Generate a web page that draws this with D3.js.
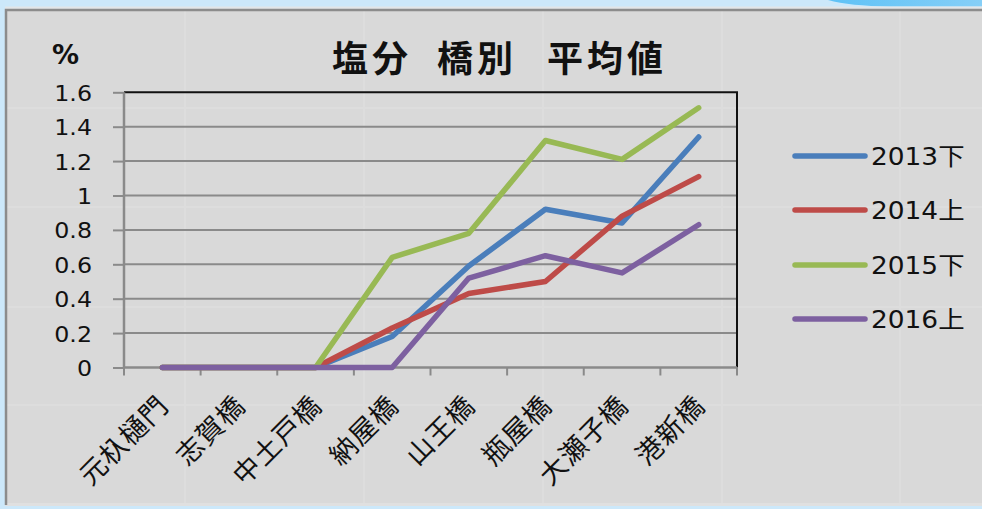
<!DOCTYPE html>
<html>
<head>
<meta charset="utf-8">
<script src="https://cdn.jsdelivr.net/npm/d3@7"></script>
<style>
  html, body { margin: 0; padding: 0; background: #cce8fa; }
  svg { display: block; }
</style>
</head>
<body>
<svg id="chart" width="982" height="509"></svg>
<script>
// Bridges along the river, upstream to downstream
const bridges = ["元杁樋門", "志賀橋", "中土戸橋", "納屋橋", "山王橋", "瓶屋橋", "大瀬子橋", "港新橋"];

// Average salinity (%) per survey period
const seriesNames = ["2013下", "2014上", "2015下", "2016上"];
const s2013 = [0, 0, 0, 0.18, 0.59, 0.92, 0.84, 1.34];
const s2014 = [0, 0, 0, 0.23, 0.43, 0.50, 0.88, 1.11];
const s2015 = [0, 0, 0, 0.64, 0.78, 1.32, 1.21, 1.51];
const s2016 = [0, 0, 0, 0, 0.52, 0.65, 0.55, 0.83];
const yTicks = [0, 0.2, 0.4, 0.6, 0.8, 1, 1.2, 1.4, 1.6];
const titleWords = ["塩分", "橋別", "平均値"];

const seriesValues = [s2013, s2014, s2015, s2016];
const colors = ["#4a7ebb", "#be4b48", "#98b954", "#7d60a0"];

const svg = d3.select("#chart");
const W = 982, H = 509;

// Page backdrop with the swoosh at the top right
const defs = svg.append("defs");
const sw = defs.append("linearGradient").attr("id", "swoosh").attr("x1", 0).attr("x2", 1);
sw.append("stop").attr("offset", "0").attr("stop-color", "#5ec2f6");
sw.append("stop").attr("offset", "1").attr("stop-color", "#86cff7");
svg.append("rect").attr("width", W).attr("height", H).attr("fill", "#cce8fa");
svg.append("path")
  .attr("d", "M828,0 Q850,6 890,6.5 L982,6.5 L982,0 Z")
  .attr("fill", "url(#swoosh)");
svg.append("rect").attr("x", 5).attr("y", 6.5).attr("width", W - 5).attr("height", 3).attr("fill", "#e2e6e8");

// Chart area
svg.append("rect").attr("x", 5).attr("y", 9).attr("width", W - 5).attr("height", 496).attr("fill", "#d9d9d9");
// faint texture lines
const tex = svg.append("g").attr("stroke", "#dddddd").attr("stroke-width", 2);
[185, 364, 543, 722, 900].forEach(x => tex.append("line").attr("x1", x).attr("x2", x).attr("y1", 11).attr("y2", 505));
[108, 207, 307, 405].forEach(y => tex.append("line").attr("x1", 7).attr("x2", W).attr("y1", y).attr("y2", y));
svg.append("rect").attr("x", 5).attr("y", 503).attr("width", W - 5).attr("height", 3).attr("fill", "#e0e0e0");
svg.append("path")
  .attr("d", `M6,505 L6,10 L${W},10`)
  .attr("fill", "none").attr("stroke", "#8c8c8c").attr("stroke-width", 2.5);

// Scales
const x0 = 124, x1 = 737, yTop = 92.3, yBot = 367.5;
const x = d3.scaleBand().domain(bridges).range([x0, x1]).padding(0);
const y = d3.scaleLinear().domain([0, 1.6]).range([yBot, yTop]);
const cx = d => x(d) + x.bandwidth() / 2;

const numFont = "'DejaVu Sans', 'Noto Sans CJK JP', sans-serif";
const cjkFont = "'Noto Sans CJK JP', 'DejaVu Sans', sans-serif";

// Horizontal gridlines
svg.append("g")
  .selectAll("line")
  .data(yTicks.filter(t => t > 0 && t < 1.6))
  .join("line")
  .attr("x1", x0).attr("x2", x1)
  .attr("y1", d => y(d)).attr("y2", d => y(d))
  .attr("stroke", "#8a8a8a").attr("stroke-width", 2);

// Top and right plot border
svg.append("path")
  .attr("d", `M${x0},${y(1.6)} L${x1},${y(1.6)} L${x1},${y(0)}`)
  .attr("fill", "none").attr("stroke", "#111").attr("stroke-width", 2);

// Y axis
const yAxis = svg.append("g")
  .attr("transform", `translate(${x0},0)`)
  .call(d3.axisLeft(y).tickValues(yTicks).tickSize(11).tickPadding(20).tickFormat(d3.format("~g")));
yAxis.select(".domain").attr("stroke", "#8a8a8a").attr("stroke-width", 2.5).attr("d", `M0,${yTop}V${yBot}`);
yAxis.selectAll(".tick line").attr("stroke", "#8a8a8a").attr("stroke-width", 2);
yAxis.selectAll(".tick text")
  .attr("font-family", numFont).attr("font-size", 22).attr("fill", "#111")
  .attr("transform", "scale(1.08,1)").attr("dy", "0.36em")
  .attr("x", -32 / 1.08);

// X axis
const xAxis = svg.append("g")
  .attr("transform", `translate(0,${yBot})`)
  .call(d3.axisBottom(x).tickSize(0).tickFormat(""));
xAxis.select(".domain").attr("stroke", "#8a8a8a").attr("stroke-width", 2.5).attr("d", `M${x0},0H${x1}`);
xAxis.selectAll(".tick").remove();
svg.append("g")
  .selectAll("line")
  .data(d3.range(bridges.length + 1))
  .join("line")
  .attr("x1", i => x0 + i * x.bandwidth()).attr("x2", i => x0 + i * x.bandwidth())
  .attr("y1", yBot).attr("y2", yBot + 8)
  .attr("stroke", "#8a8a8a").attr("stroke-width", 2);

svg.append("g")
  .selectAll("text")
  .data(bridges)
  .join("text")
  .attr("transform", d => `translate(${cx(d) + 8},${yBot + 40}) rotate(-45)`)
  .attr("text-anchor", "end")
  .attr("font-family", cjkFont).attr("font-size", 27).attr("letter-spacing", 1).attr("fill", "#111")
  .text(d => d);

// Series lines
const line = d3.line().x((v, i) => cx(bridges[i])).y(v => y(v));
svg.append("g")
  .selectAll("path")
  .data(seriesValues)
  .join("path")
  .attr("d", d => line(d))
  .attr("fill", "none")
  .attr("stroke", (d, i) => colors[i])
  .attr("stroke-width", 5.5)
  .attr("stroke-linecap", "round")
  .attr("stroke-linejoin", "round");

// Title and unit
const titleX = [332, 437, 547];
const title = svg.append("text")
  .attr("y", 72)
  .attr("font-family", cjkFont).attr("font-weight", "bold").attr("font-size", 36)
  .attr("letter-spacing", 4).attr("fill", "#111");
titleWords.forEach((w, i) => {
  title.append("tspan").attr("x", titleX[i]).text(w + (i < titleWords.length - 1 ? " " : ""));
});
svg.append("text")
  .attr("x", 52).attr("y", 64)
  .attr("font-family", "'DejaVu Sans', sans-serif").attr("font-weight", "bold").attr("font-size", 27)
  .attr("fill", "#111")
  .text("%");

// Legend
const legendY = [156, 210, 265, 319];
const lg = svg.append("g");
seriesNames.forEach((name, i) => {
  lg.append("line")
    .attr("x1", 795).attr("x2", 865).attr("y1", legendY[i]).attr("y2", legendY[i])
    .attr("stroke", colors[i]).attr("stroke-width", 5.5).attr("stroke-linecap", "round");
  lg.append("text")
    .attr("transform", `translate(871,${legendY[i] + 9}) scale(1.1,1)`)
    .attr("font-family", numFont).attr("font-size", 24).attr("fill", "#111")
    .text(name);
});
</script>
</body>
</html>
